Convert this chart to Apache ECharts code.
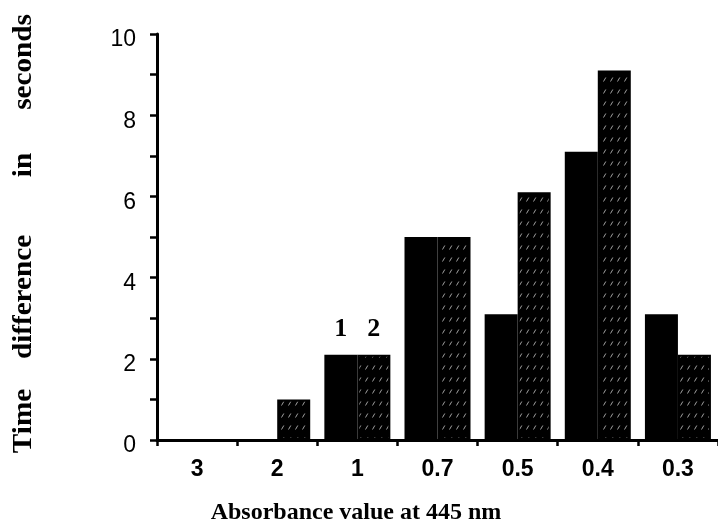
<!DOCTYPE html>
<html>
<head>
<meta charset="utf-8">
<script src="https://cdn.jsdelivr.net/npm/echarts@6/dist/echarts.min.js"></script>
<style>
  html, body { margin: 0; padding: 0; background: #fff; }
  #chart { width: 718px; height: 526px; }
</style>
</head>
<body>
<div id="chart"></div>
<script>
// Absorbance categories (x axis, high to low)
const categories = ['3', '2', '1', '0.7', '0.5', '0.4', '0.3'];
// Time difference in seconds for the two measurement series
const seriesNames = ['1', '2'];
const solidValues = [0, 0, 2.1, 5, 3.1, 7.1, 3.1];
const hatchedValues = [0, 1, 2.1, 5, 6.1, 9.1, 2.1];
// Labelled y ticks (minor ticks fall on every integer)
const yTickLabels = [0, 2, 4, 6, 8, 10];
// The series numbers are printed above this category only
const labelledCategory = '1';
const yTitleWords = ['Time', 'difference', 'in', 'seconds'];
const xTitle = 'Absorbance value at 445 nm';

// Dark fill with sparse fine white "/" dashes for the second series
function hatchPattern() {
  const c = document.createElement('canvas');
  c.width = 7; c.height = 12;
  const g = c.getContext('2d');
  g.fillStyle = '#000';
  g.fillRect(0, 0, 7, 12);
  g.strokeStyle = 'rgba(255,255,255,0.7)';
  g.lineWidth = 0.9;
  g.beginPath();
  g.moveTo(1.5, 9.5);
  g.lineTo(3.8, 5.5);
  g.stroke();
  return c;
}

const labelIdx = categories.indexOf(labelledCategory);
function withLabel(values) {
  return values.map((v, i) => i === labelIdx ? { value: v, label: { show: true } } : v);
}

const seriesLabel = {
  show: false,
  position: 'top',
  distance: 12,
  formatter: p => p.seriesName,
  color: '#000',
  fontFamily: 'Liberation Serif',
  fontWeight: 'bold',
  fontSize: 26
};

// Y-axis title words, spread along the axis
const yWordCenters = [421, 297, 165, 62];
const yTitle = yTitleWords.map((w, i) => ({
  type: 'text',
  x: 24,
  y: yWordCenters[i],
  rotation: Math.PI / 2,
  scaleX: 1.08,
  style: {
    text: w,
    fill: '#000',
    font: 'bold 27px "Liberation Serif"',
    textAlign: 'center',
    textVerticalAlign: 'middle'
  }
}));

const chart = echarts.init(document.getElementById('chart'), null, { renderer: 'canvas' });
chart.setOption({
  animation: false,
  backgroundColor: '#fff',
  grid: { left: 157, right: 0, top: 34, bottom: 86, containLabel: false },
  xAxis: {
    type: 'category',
    data: categories,
    boundaryGap: true,
    axisLine: { show: true, lineStyle: { color: '#000', width: 3 } },
    axisTick: { show: true, length: 6, lineStyle: { color: '#000', width: 2.5 } },
    axisLabel: {
      color: '#000',
      fontFamily: 'Liberation Sans',
      fontWeight: 'bold',
      fontSize: 23,
      margin: 18
    },
    splitLine: { show: false }
  },
  yAxis: {
    type: 'value',
    min: 0,
    max: 10,
    interval: 1,
    axisLine: { show: true, lineStyle: { color: '#000', width: 3 } },
    axisTick: { show: true, length: 7, lineStyle: { color: '#000', width: 2.5 } },
    axisLabel: {
      formatter: v => yTickLabels.includes(v) ? String(v) : '',
      color: '#000',
      fontFamily: 'Liberation Sans',
      fontSize: 23,
      margin: 21,
      verticalAlign: 'top',
      lineHeight: 12
    },
    splitLine: { show: false }
  },
  series: [
    {
      name: seriesNames[0],
      type: 'bar',
      data: withLabel(solidValues),
      barWidth: 33,
      barGap: '0%',
      itemStyle: { color: '#000' },
      label: seriesLabel
    },
    {
      name: seriesNames[1],
      type: 'bar',
      data: withLabel(hatchedValues),
      barWidth: 33,
      itemStyle: { color: { image: hatchPattern(), repeat: 'repeat' }, borderColor: '#000', borderWidth: 2 },
      label: seriesLabel
    }
  ],
  graphic: yTitle.concat([{
    type: 'text',
    x: 356,
    y: 513,
    style: {
      text: xTitle,
      fill: '#000',
      font: 'bold 24px "Liberation Serif"',
      textAlign: 'center',
      textVerticalAlign: 'middle'
    }
  }])
});
</script>
</body>
</html>
